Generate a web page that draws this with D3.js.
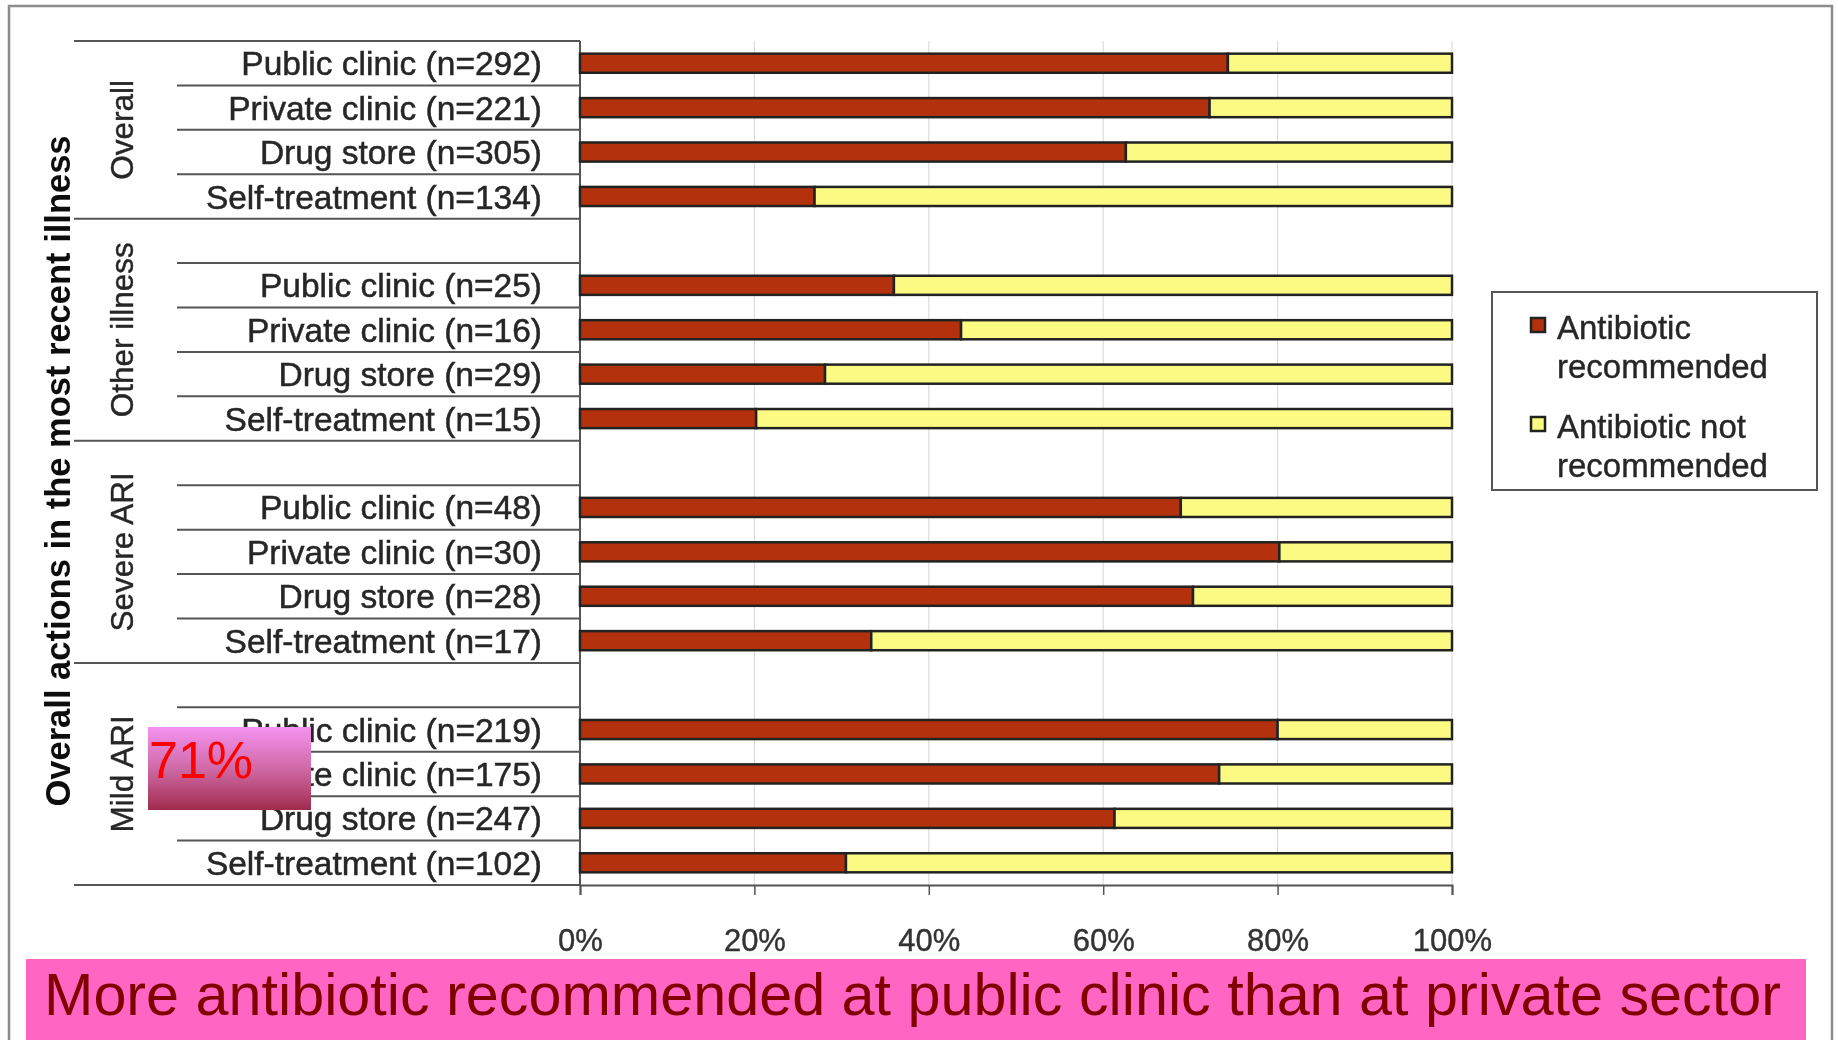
<!DOCTYPE html>
<html>
<head>
<meta charset="utf-8">
<script src="https://cdn.jsdelivr.net/npm/d3@7"></script>
<style>
  html, body { margin: 0; padding: 0; background: #ffffff; }
  svg { display: block; }
  text { font-family: "Liberation Sans", Arial, sans-serif; }
</style>
</head>
<body>
<svg id="chart" width="1838" height="1040"></svg>
<script>
// Illness groups (top to bottom) and the place where treatment was sought
const groups = ["Overall", "Other illness", "Severe ARI", "Mild ARI"];
const places = ["Public clinic", "Private clinic", "Drug store", "Self-treatment"];

// Number of respondents per group and place
const sampleSizes = [
  [292, 221, 305, 134],
  [25, 16, 29, 15],
  [48, 30, 28, 17],
  [219, 175, 247, 102]
];

// Share (%) where an antibiotic was recommended; the remainder is "not recommended"
const recommendedPct = [
  [74.3, 72.2, 62.6, 26.9],
  [36.0, 43.7, 28.1, 20.2],
  [68.9, 80.2, 70.3, 33.4],
  [80.0, 73.3, 61.3, 30.5]
];

const xTicks = [0, 20, 40, 60, 80, 100];
const seriesNames = ["Antibiotic recommended", "Antibiotic not recommended"];
const seriesColors = ["#b3320a", "#fbfb84"];
const axisTitle = "Overall actions in the most recent illness";
const headline = "More antibiotic recommended at public clinic than at private sector";
const calloutText = "71%";

// One slot per bar; every group after the first starts with an empty spacer slot
const slots = [];
groups.forEach((g, gi) => {
  if (gi > 0) slots.push({ id: "blank-" + gi, group: gi, blank: true });
  places.forEach((p, pi) => {
    slots.push({
      id: g + "|" + p,
      group: gi,
      blank: false,
      label: p + " (n=" + sampleSizes[gi][pi] + ")",
      rec: recommendedPct[gi][pi]
    });
  });
});

const svg = d3.select("#chart");
const defs = svg.append("defs");

defs.append("filter").attr("id", "soft")
  .append("feGaussianBlur").attr("stdDeviation", 0.6);

const grad = defs.append("linearGradient").attr("id", "calloutFill")
  .attr("x1", 0).attr("y1", 0).attr("x2", 0).attr("y2", 1);
grad.append("stop").attr("offset", "0%").attr("stop-color", "#f592f1");
grad.append("stop").attr("offset", "50%").attr("stop-color", "#cf6aa6");
grad.append("stop").attr("offset", "100%").attr("stop-color", "#a12b4d");

const plotTop = 41, plotBottom = 885, plotLeft = 580, plotRight = 1452;

const x = d3.scaleLinear().domain([0, 100]).range([plotLeft, plotRight]);
const y = d3.scaleBand()
  .domain(slots.map(s => s.id))
  .range([plotTop, plotBottom])
  .paddingInner(0.57)
  .paddingOuter(0.285);
const slotTop = id => y(id) - (y.step() - y.bandwidth()) / 2;

const chart = svg.append("g").attr("filter", "url(#soft)");

// Outer frame
chart.append("rect")
  .attr("x", 9).attr("y", 6).attr("width", 1823).attr("height", 1060)
  .attr("fill", "none").attr("stroke", "#8c8c8c").attr("stroke-width", 2.5);

// Vertical gridlines
chart.append("g").selectAll("line")
  .data(xTicks.filter(t => t > 0))
  .join("line")
  .attr("x1", d => x(d)).attr("x2", d => x(d))
  .attr("y1", plotTop).attr("y2", plotBottom)
  .attr("stroke", "#dcdcdc").attr("stroke-width", 1.2);

// Category separators: long at group boundaries, short between rows
const bounds = slots.map((s, i) => ({ y: slotTop(s.id), long: i === 0 || s.blank }));
bounds.push({ y: plotBottom, long: true });
chart.append("g").selectAll("line")
  .data(bounds)
  .join("line")
  .attr("x1", d => d.long ? 74 : 177).attr("x2", plotLeft)
  .attr("y1", d => d.y).attr("y2", d => d.y)
  .attr("stroke", "#555").attr("stroke-width", 2);

// Vertical category axis
chart.append("line")
  .attr("x1", plotLeft).attr("x2", plotLeft)
  .attr("y1", plotTop).attr("y2", plotBottom)
  .attr("stroke", "#555").attr("stroke-width", 2);

// Row labels
const rows = slots.filter(s => !s.blank);
chart.append("g").selectAll("text")
  .data(rows)
  .join("text")
  .attr("x", 542)
  .attr("y", d => y(d.id) + y.bandwidth() / 2)
  .attr("dy", "0.36em")
  .attr("text-anchor", "end")
  .attr("font-size", 33.5)
  .attr("fill", "#262626")
  .attr("stroke", "#262626").attr("stroke-width", 0.5)
  .text(d => d.label);

// Group labels, rotated
chart.append("g").selectAll("text")
  .data(groups)
  .join("text")
  .attr("transform", (g, gi) => {
    const gs = slots.filter(s => s.group === gi);
    const y0 = slotTop(gs[0].id);
    const y1 = slotTop(gs[gs.length - 1].id) + y.step();
    return `translate(122,${(y0 + y1) / 2}) rotate(-90)`;
  })
  .attr("dy", "0.36em")
  .attr("text-anchor", "middle")
  .attr("font-size", 31.5)
  .attr("fill", "#262626")
  .attr("stroke", "#262626").attr("stroke-width", 0.4)
  .text(d => d);

// Axis title
chart.append("text")
  .attr("transform", `translate(58,${(plotTop + plotBottom) / 2 + 8}) rotate(-90)`)
  .attr("dy", "0.36em")
  .attr("text-anchor", "middle")
  .attr("font-size", 34.5)
  .attr("font-weight", "bold")
  .attr("fill", "#111")
  .text(axisTitle);

// Stacked bars
const stackData = rows.map(r => ({ id: r.id, rec: r.rec, not: 100 - r.rec }));
const stacked = d3.stack().keys(["rec", "not"])(stackData);
chart.append("g").selectAll("g")
  .data(stacked)
  .join("g")
  .attr("fill", (d, i) => seriesColors[i])
  .selectAll("rect")
  .data(d => d)
  .join("rect")
  .attr("x", d => x(d[0]))
  .attr("width", d => x(d[1]) - x(d[0]))
  .attr("y", d => y(d.data.id))
  .attr("height", y.bandwidth())
  .attr("stroke", "#242424")
  .attr("stroke-width", 2.5);

// Value axis
const xAxis = chart.append("g")
  .attr("transform", `translate(0,${plotBottom})`)
  .call(d3.axisBottom(x).tickValues(xTicks).tickFormat(d => d + "%").tickSize(10).tickPadding(34));
xAxis.select(".domain").attr("stroke", "#555").attr("stroke-width", 2);
xAxis.selectAll(".tick line").attr("stroke", "#555").attr("stroke-width", 1.5);
xAxis.selectAll(".tick text")
  .attr("font-size", 31)
  .attr("font-family", "Liberation Sans, Arial, sans-serif")
  .attr("fill", "#333")
  .attr("stroke", "#333").attr("stroke-width", 0.4);

// Legend
const legend = chart.append("g");
legend.append("rect")
  .attr("x", 1492).attr("y", 292).attr("width", 325).attr("height", 198)
  .attr("fill", "#fff").attr("stroke", "#555").attr("stroke-width", 2);
const legendLines = [["Antibiotic", "recommended"], ["Antibiotic not", "recommended"]];
const legendItems = legend.selectAll("g.item")
  .data(seriesNames)
  .join("g")
  .attr("class", "item")
  .attr("transform", (d, i) => `translate(0,${i * 99})`);
legendItems.append("rect")
  .attr("x", 1531).attr("y", 318).attr("width", 14).attr("height", 14)
  .attr("fill", (d, i) => seriesColors[i])
  .attr("stroke", "#222").attr("stroke-width", 2.5);
legendItems.each(function (d, i) {
  const t = d3.select(this).append("text")
    .attr("font-size", 33)
    .attr("fill", "#262626")
    .attr("stroke", "#262626").attr("stroke-width", 0.4);
  legendLines[i].forEach((line, li) => {
    t.append("tspan").attr("x", 1557).attr("y", 339 + li * 39).text(line);
  });
});

// Headline banner
svg.append("rect")
  .attr("x", 26).attr("y", 959).attr("width", 1780).attr("height", 90)
  .attr("fill", "#ff66c4");
svg.append("text")
  .attr("x", 44).attr("y", 1015)
  .attr("font-size", 59.3)
  .attr("fill", "#800000")
  .text(headline);

// Callout box
svg.append("rect")
  .attr("x", 148).attr("y", 727).attr("width", 163).attr("height", 83)
  .attr("fill", "url(#calloutFill)");
svg.append("text")
  .attr("x", 149).attr("y", 778)
  .attr("font-size", 52)
  .attr("fill", "#ff0000")
  .text(calloutText);
</script>
</body>
</html>
